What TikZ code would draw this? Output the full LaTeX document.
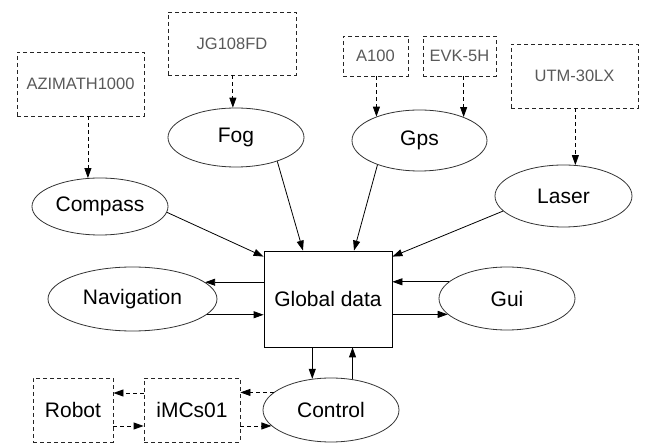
\documentclass[tikz,border=0pt]{standalone}
\usepackage{fontspec}
\setmainfont{Liberation Sans}
\usetikzlibrary{arrows.meta,shapes.geometric}
\begin{document}
\begin{tikzpicture}[x=1pt,y=-1pt,
  every node/.style={inner sep=0pt},
  oval/.style={draw=black!80,line width=0.8pt,ellipse,font=\fontsize{21}{24}\selectfont},
  hub/.style={draw=black,line width=0.8pt,rectangle,font=\fontsize{21}{24}\selectfont},
  dev/.style={draw=black!85,line width=0.8pt,dash pattern=on 4pt off 3pt,rectangle,font=\fontsize{21}{24}\selectfont},
  sensor/.style={dev,font=\fontsize{16.5}{19}\selectfont,text=black!65},
  arr/.style={line width=0.8pt,-{Triangle[length=10pt,width=7pt]}},
  darr/.style={arr,dash pattern=on 4pt off 3pt}]
\useasboundingbox (0,0) rectangle (646,443);
% sensors
\node[sensor,minimum width=127pt,minimum height=64pt] (az) at (80.5,84) {AZIMATH1000};
\node[sensor,minimum width=128pt,minimum height=63pt] (jg) at (232,43.5) {JG108FD};
\node[sensor,minimum width=65pt,minimum height=40pt] (a100) at (375.5,56) {A100};
\node[sensor,minimum width=73pt,minimum height=40pt] (evk) at (459.5,56) {EVK-5H};
\node[sensor,minimum width=127pt,minimum height=64pt] (utm) at (574.5,76) {UTM-30LX};
% ellipses
\node[oval,minimum width=136pt,minimum height=59pt] (fog) at (236,137.5) {Fog};
\node[oval,minimum width=136pt,minimum height=57pt] (compass) at (100,206.5) {Compass};
\node[oval,minimum width=135pt,minimum height=61pt] (gps) at (419.5,140.5) {Gps};
\node[oval,minimum width=137pt,minimum height=62pt] (laser) at (563.5,196) {Laser};
\node[oval,minimum width=169pt,minimum height=64pt] (nav) at (132.5,299) {Navigation};
\node[oval,minimum width=136pt,minimum height=63pt] (gui) at (507,298.5) {Gui};
\node[oval,minimum width=136pt,minimum height=64pt] (ctrl) at (331,410) {Control};
% hub
\node[hub,minimum width=128pt,minimum height=96pt] (gd) at (328,299) {Global data};
% devices
\node[dev,minimum width=80pt,minimum height=64pt] (robot) at (73,410) {Robot};
\node[dev,minimum width=96pt,minimum height=64pt] (imcs) at (192,410) {iMCs01};
% dashed sensor arrows
\draw[darr] (az.south -| compass.113) -- (compass.113);
\draw[darr] (jg.south -| fog.96) -- (fog.96);
\draw[darr] (a100.south -| gps.151) -- (gps.151);
\draw[darr] (evk.south -| gps.28) -- (gps.28);
\draw[darr] (utm.south -| laser.69) -- (laser.69);
% into global data
\draw[arr] (compass.-5) -- ([yshift=-6pt]gd.north west);
\draw[arr] (fog.-30) -- ([xshift=-25pt]gd.north);
\draw[arr] (gps.-150) -- ([xshift=26pt]gd.north);
\draw[arr] (laser.194) -- ([yshift=-6pt]gd.north east);
% navigation
\draw[arr] (gd.west |- nav.13.4) -- (nav.13.4);
\draw[arr] (nav.-12.3) -- (gd.west |- nav.-12.3);
% gui
\draw[arr] (gui.164.1) -- (gd.east |- gui.164.1);
\draw[arr] (gd.east |- gui.195.9) -- (gui.195.9);
% control
\draw[arr] (gd.south -| ctrl.121.7) -- (ctrl.121.7);
\draw[arr] (ctrl.55.4) -- (gd.south -| ctrl.55.4);
% control <-> imcs
\draw[darr] (ctrl.163.6) -- (imcs.east |- ctrl.163.6);
\draw[darr] (imcs.east |- ctrl.195.2) -- (ctrl.195.2);
% imcs <-> robot
\draw[darr] ([yshift=17pt]imcs.west) -- ([yshift=17pt]robot.east);
\draw[darr] ([yshift=-16pt]robot.east) -- ([yshift=-16pt]imcs.west);
\end{tikzpicture}
\end{document}
